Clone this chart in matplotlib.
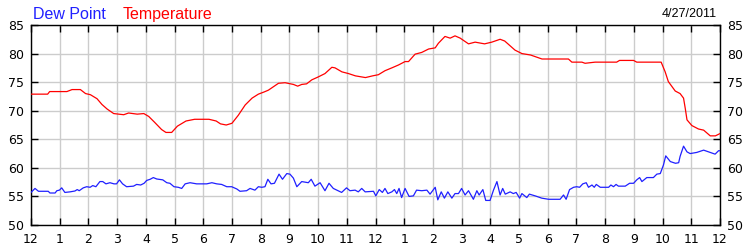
import matplotlib
matplotlib.use("Agg")
import matplotlib.pyplot as plt

# Temperature readings (hours since midnight, deg F)
temp_hours = [0, 0.58, 0.65, 1.25, 1.43, 1.72, 1.9, 2.07, 2.3, 2.47, 2.65, 2.88, 3.23, 3.4, 3.7, 3.93,
              4.1, 4.3, 4.55, 4.7, 4.9, 5.1, 5.4, 5.7, 6.2, 6.45, 6.6, 6.8, 7.0, 7.22, 7.46, 7.7, 7.92,
              8.13, 8.27, 8.62, 8.85, 9.14, 9.29, 9.43, 9.6, 9.78, 10.0, 10.24, 10.48, 10.59, 10.83,
              11.06, 11.3, 11.65, 11.9, 12.1, 12.33, 12.57, 12.8, 13.03, 13.15, 13.38, 13.61, 13.85,
              14.08, 14.19, 14.42, 14.6, 14.77, 14.95, 15.24, 15.47, 15.8, 16.05, 16.34, 16.5, 16.86,
              17.1, 17.4, 17.8, 18.72, 18.84, 19.19, 19.3, 19.65, 20.4, 20.5, 20.99, 21.1, 21.95,
              22.09, 22.2, 22.44, 22.61, 22.73, 22.79, 22.85, 23.02, 23.25, 23.43, 23.66, 23.84, 24.0]
temp_values = [72.9, 72.9, 73.35, 73.35, 73.7, 73.7, 73.0, 72.8, 72.1, 71.1, 70.3, 69.5, 69.3, 69.6, 69.4, 69.5,
               69.0, 68.0, 66.7, 66.2, 66.2, 67.3, 68.2, 68.5, 68.5, 68.2, 67.7, 67.5, 67.8, 69.2, 71.0, 72.2, 72.9,
               73.3, 73.6, 74.8, 74.9, 74.6, 74.3, 74.6, 74.7, 75.4, 75.9, 76.5, 77.6, 77.5, 76.8,
               76.5, 76.1, 75.8, 76.1, 76.3, 77.0, 77.5, 78.0, 78.6, 78.6, 79.9, 80.2, 80.8,
               81.0, 81.8, 83.0, 82.7, 83.1, 82.7, 81.7, 82.0, 81.7, 82.0, 82.5, 82.2, 80.6,
               80.0, 79.75, 79.05, 79.05, 78.5, 78.5, 78.3, 78.5, 78.5, 78.8, 78.8, 78.5, 78.5,
               76.8, 75.1, 73.45, 73.0, 72.2, 70.4, 68.4, 67.4, 66.8, 66.6, 65.6, 65.6, 66.0]

# Dew point readings (hours since midnight, deg F)
dew_hours = [0, 0.14, 0.26, 0.6, 0.66, 0.84, 0.9, 0.99, 1.07, 1.18, 1.36, 1.53, 1.61, 1.68, 1.82, 1.94,
             2.06, 2.15, 2.26, 2.4, 2.5, 2.61, 2.75, 2.89, 2.98, 3.08, 3.19, 3.33, 3.57, 3.68, 3.82, 3.94,
             4.03, 4.15, 4.26, 4.38, 4.59, 4.73, 4.84, 4.98, 5.13, 5.25, 5.37, 5.54, 5.66, 5.77, 6.12,
             6.3, 6.47, 6.64, 6.82, 6.99, 7.17, 7.28, 7.51, 7.63, 7.8, 7.92, 8.04, 8.15, 8.25, 8.36,
             8.48, 8.64, 8.76, 8.91, 9.02, 9.14, 9.26, 9.43, 9.66, 9.76, 9.89, 10.07, 10.24, 10.38,
             10.53, 10.82, 10.99, 11.11, 11.29, 11.4, 11.52, 11.64, 11.93, 12.01, 12.13, 12.24, 12.33,
             12.43, 12.57, 12.66, 12.74, 12.82, 12.91, 13.03, 13.17, 13.32, 13.43, 13.61, 13.79, 13.9,
             14.08, 14.17, 14.29, 14.4, 14.52, 14.66, 14.77, 14.89, 15.0, 15.12, 15.24, 15.41, 15.53,
             15.61, 15.74, 15.84, 15.99, 16.11, 16.23, 16.34, 16.43, 16.52, 16.69, 16.8, 16.9, 17.02,
             17.1, 17.27, 17.36, 17.56, 17.79, 18.03, 18.43, 18.55, 18.64, 18.76, 18.9, 19.01, 19.11,
             19.22, 19.34, 19.42, 19.54, 19.62, 19.69, 19.83, 20.12, 20.2, 20.29, 20.38, 20.46, 20.7,
             20.85, 20.99, 21.1, 21.2, 21.28, 21.45, 21.68, 21.8, 21.92, 22.03, 22.11, 22.27, 22.45,
             22.56, 22.61, 22.73, 22.85, 22.96, 23.19, 23.43, 23.66, 23.83, 23.95, 24.0]
dew_values = [55.7, 56.4, 55.9, 55.9, 55.6, 55.6, 56.0, 56.1, 56.5, 55.7, 55.8, 55.95, 56.2, 56.0, 56.5, 56.7,
              56.6, 56.9, 56.7, 57.6, 57.6, 57.2, 57.4, 57.2, 57.2, 57.9, 57.2, 56.7, 56.8, 57.1, 57.0, 57.3,
              57.8, 58.0, 58.3, 58.05, 57.9, 57.4, 57.3, 56.7, 56.6, 56.4, 57.2, 57.4, 57.3, 57.2, 57.2,
              57.4, 57.2, 57.1, 56.7, 56.7, 56.3, 55.9, 56.0, 56.4, 56.1, 56.7, 56.6, 56.7, 58.0, 57.2,
              57.3, 58.9, 58.0, 59.0, 58.9, 58.2, 56.7, 57.6, 57.4, 58.0, 56.8, 57.4, 56.0, 57.3,
              56.4, 55.7, 56.5, 56.0, 56.1, 55.8, 56.4, 55.8, 55.9, 55.1, 56.2, 55.7, 56.4,
              55.5, 55.8, 56.2, 55.5, 56.4, 54.8, 56.4, 55.0, 55.1, 56.1, 56.0, 56.1, 55.4,
              56.6, 54.4, 55.8, 54.7, 55.8, 54.7, 55.5, 55.5, 56.4, 55.25, 56.0, 54.5, 56.0,
              55.25, 56.2, 54.3, 54.3, 56.1, 57.6, 55.25, 56.4, 55.4, 55.8, 55.5, 55.7, 54.7,
              55.5, 54.8, 55.4, 55.1, 54.7, 54.5, 54.5, 55.25, 54.5, 56.2, 56.6, 56.7, 56.6,
              57.2, 57.4, 56.6, 57.0, 56.6, 57.1, 56.6, 56.6, 57.0, 56.7, 57.1, 56.8, 56.8,
              57.3, 57.3, 57.9, 58.3, 57.6, 58.3, 58.3, 58.9, 59.0, 60.5, 62.1, 61.1, 60.8,
              60.9, 62.0, 63.8, 62.8, 62.5, 62.7, 63.1, 62.7, 62.4, 63.0, 63.0]

hour_labels = ["12", "1", "2", "3", "4", "5", "6", "7", "8", "9", "10", "11",
               "12", "1", "2", "3", "4", "5", "6", "7", "8", "9", "10", "11", "12"]
y_ticks = [50, 55, 60, 65, 70, 75, 80, 85]
date_text = "4/27/2011"

fig = plt.figure(figsize=(7.5, 2.5), dpi=100)
ax = fig.add_axes([31 / 750, 25 / 250, 689 / 750, 200 / 250])

ax.plot(dew_hours, dew_values, color="#2020ff", lw=0.9, zorder=3)
ax.plot(temp_hours, temp_values, color="#ff0000", lw=0.9, zorder=3)

ax.set_xlim(0, 24)
ax.set_ylim(50, 85)
ax.set_xticks(range(25))
ax.set_xticklabels(hour_labels)
ax.set_yticks(y_ticks)
ax.grid(True, color="#cccccc", lw=1.0, zorder=0)
ax.set_axisbelow(True)

ax.tick_params(axis="both", direction="in", length=5, width=1, color="black",
               labelsize=9, top=True, right=True, labelright=True, pad=5)
ax.tick_params(axis="x", pad=6)
for lab in ax.get_xticklabels() + ax.get_yticklabels():
    lab.set_family("DejaVu Sans")
for s in ax.spines.values():
    s.set_color("black")
    s.set_linewidth(1.0)

fig.text(33 / 750, 1 - 19 / 250, "Dew Point", color="#2020ff", fontsize=11.5,
         family="Liberation Sans", ha="left", va="baseline")
fig.text(123 / 750, 1 - 19 / 250, "Temperature", color="#ff0000", fontsize=11.5,
         family="Liberation Sans", ha="left", va="baseline")
fig.text(717 / 750, 1 - 17 / 250, date_text, color="black", fontsize=9,
         family="Liberation Sans", ha="right", va="baseline")

fig.savefig("out.png", dpi=100)
